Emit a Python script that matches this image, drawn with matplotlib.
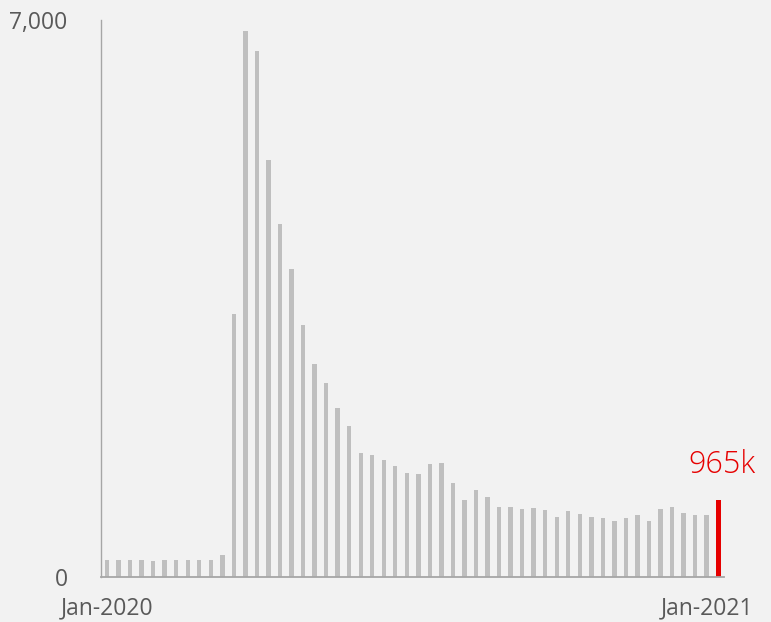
import numpy as np
import matplotlib
matplotlib.use('Agg')
from matplotlib import pyplot as plt

# weekly initial claims (thousands), week ending Jan 4 2020 .. Jan 9 2021
claims = [210, 210, 215, 212, 200, 210, 215, 218, 214, 211, 275,
          3300, 6860, 6610, 5235, 4440, 3865, 3173, 2682, 2443, 2119, 1893,
          1557, 1532, 1473, 1401, 1305, 1300, 1419, 1431, 1183, 965, 1099,
          1003, 877, 885, 856, 865, 840, 759, 831, 789, 752, 747,
          705, 743, 781, 705, 852, 885, 802, 781, 781, 965]
tick_pos = [0, 52]
tick_labels = ['Jan-2020', 'Jan-2021']
last_label = '965k'

bg = '#F2F2F2'
grey = '#BFBFBF'
red = '#E60000'
txt = '#595959'

plt.rcParams['font.family'] = ['Open Sans', 'DejaVu Sans']

fig = plt.figure(figsize=(7.71, 6.22), dpi=100, facecolor=bg)
ax = fig.add_axes([0.131, 0.0723, 0.808, 0.8955])
ax.set_facecolor(bg)

x = np.arange(len(claims))
ax.bar(x[:-1], claims[:-1], width=0.38, color=grey)
ax.bar(x[-1], claims[-1], width=0.45, color=red)

ax.annotate(last_label, (x[-1], claims[-1]), xytext=(3, 19.5),
            textcoords='offset points', ha='center', va='baseline',
            color=red, fontsize=22, fontweight='light')

ax.set_xlim(-0.52, 53.5)
ax.set_ylim(0, 7000)
ax.set_yticks([0, 7000])
ax.set_yticklabels(['0', '7,000'])
ax.set_xticks(tick_pos)
ax.set_xticklabels(tick_labels)
ax.tick_params(axis='both', length=0, colors=txt, labelsize=16.5)
ax.tick_params(axis='x', pad=14)
ax.tick_params(axis='y', pad=24)

for s in ['top', 'right']:
    ax.spines[s].set_visible(False)
ax.spines['left'].set_color('#A6A6A6')
ax.spines['left'].set_linewidth(1)
ax.spines['bottom'].set_color('#A6A6A6')
ax.spines['bottom'].set_linewidth(1.3)

fig.savefig('out.png', dpi=100, facecolor=bg)
